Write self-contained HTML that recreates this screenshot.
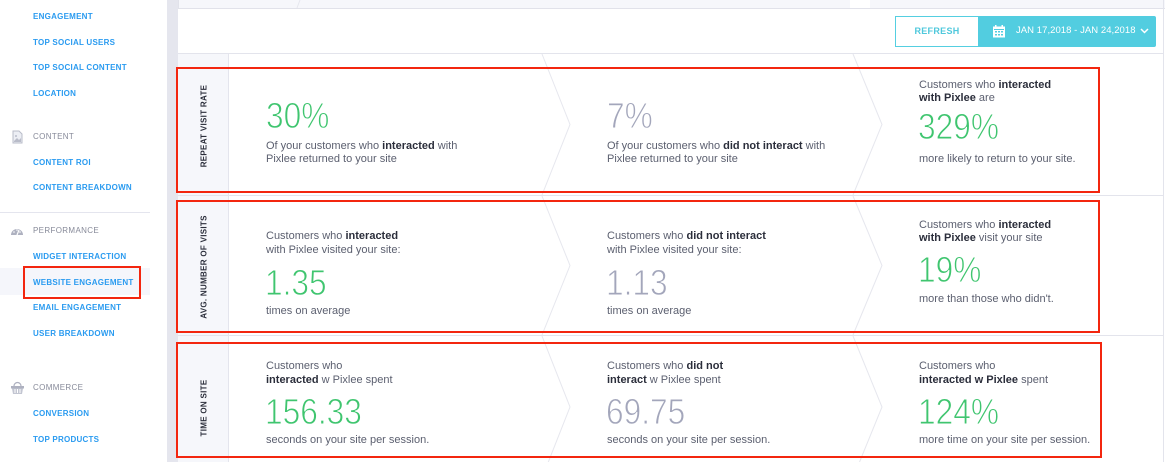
<!DOCTYPE html>
<html><head><meta charset="utf-8">
<style>
*{margin:0;padding:0;box-sizing:border-box}
html,body{width:1165px;height:462px;overflow:hidden;background:#fff;font-family:"Liberation Sans",sans-serif}
.a{position:absolute;white-space:nowrap}
.nav{position:absolute;left:33px;font-size:8px;font-weight:bold;letter-spacing:.25px;color:#2a9bf0;line-height:10px;white-space:nowrap}
.hdr{position:absolute;left:33px;font-size:8px;letter-spacing:.35px;color:#878a99;line-height:10px;white-space:nowrap}
.t{position:absolute;font-size:11px;line-height:13px;color:#5b5f6f;white-space:nowrap}
.t b{color:#2b2e3b}
.big{position:absolute;font-size:36px;line-height:36px;white-space:nowrap;transform:scaleX(.88);transform-origin:0 0;-webkit-text-stroke:0.9px #fff;paint-order:normal}
.g{color:#3fc56f}
.s{color:#a3a6bb}
.vl{position:absolute;font-size:8px;font-weight:bold;letter-spacing:.3px;color:#2b2e3b;white-space:nowrap;transform:translate(-50%,-50%) rotate(-90deg)}
.red{position:absolute;border:2px solid #f3260f}
.lab{position:absolute;left:178px;width:51px;background:#f6f7fb;border-right:1px solid #e4e5ed}
.hl{position:absolute;left:178px;width:985px;height:1px;background:#e3e4ec}
</style></head><body>

<!-- sidebar -->
<div class="a" style="left:0;top:268px;width:150px;height:27px;background:#f5f6fb"></div>
<div class="a" style="left:0;top:212px;width:150px;height:1px;background:#e4e5ee"></div>
<div class="nav" style="top:12px">ENGAGEMENT</div>
<div class="nav" style="top:38px">TOP SOCIAL USERS</div>
<div class="nav" style="top:63px">TOP SOCIAL CONTENT</div>
<div class="nav" style="top:89px">LOCATION</div>
<div class="hdr" style="top:132px">CONTENT</div>
<div class="nav" style="top:158px">CONTENT ROI</div>
<div class="nav" style="top:183px">CONTENT BREAKDOWN</div>
<div class="hdr" style="top:226px">PERFORMANCE</div>
<div class="nav" style="top:252px">WIDGET INTERACTION</div>
<div class="nav" style="top:278px">WEBSITE ENGAGEMENT</div>
<div class="nav" style="top:303px">EMAIL ENGAGEMENT</div>
<div class="nav" style="top:329px">USER BREAKDOWN</div>
<div class="hdr" style="top:383px">COMMERCE</div>
<div class="nav" style="top:409px">CONVERSION</div>
<div class="nav" style="top:435px">TOP PRODUCTS</div>
<svg class="a" style="left:10px;top:129px" width="14" height="16" viewBox="0 0 14 16">
 <path d="M3 2h6l3 3v9H3z" fill="#eceef4" stroke="#b9bcc9" stroke-width="1"/>
 <path d="M4 12l3-3 2 2 2-2v4H4z" fill="#b9bcc9"/><circle cx="6" cy="7" r="1" fill="#b9bcc9"/>
</svg>
<svg class="a" style="left:10px;top:225px" width="14" height="12" viewBox="0 0 14 12">
 <path d="M1 10a6 6 0 0 1 12 0z" fill="#aeb1c0"/>
 <path d="M7 10l2-5" stroke="#fff" stroke-width="1.2"/>
 <circle cx="4" cy="7" r=".8" fill="#fff"/><circle cx="10" cy="7" r=".8" fill="#fff"/><circle cx="7" cy="5" r=".8" fill="#fff"/>
</svg>
<svg class="a" style="left:10px;top:381px" width="15" height="14" viewBox="0 0 15 14">
 <path d="M4 5a3.5 3.5 0 0 1 7 0" fill="none" stroke="#aeb1c0" stroke-width="1.2"/>
 <rect x="1" y="5" width="13" height="2.5" fill="#aeb1c0"/>
 <path d="M2 7.5h11l-1 5.5H3z" fill="#c3c6d2"/>
 <path d="M5 8v4M7.5 8v4M10 8v4" stroke="#fff" stroke-width="1"/>
</svg>
<div class="red" style="left:23px;top:266px;width:118px;height:33px"></div>

<!-- gray strip -->
<div class="a" style="left:167px;top:0;width:11px;height:462px;background:#e5e6ee"></div>

<!-- top strip -->
<div class="a" style="left:178px;top:0;width:987px;height:9px;background:#f6f7fb;border-bottom:1px solid #e1e2ea"></div>
<div class="a" style="left:850px;top:0;width:20px;height:8px;background:#fff"></div>
<div class="a" style="left:178px;top:0;width:1px;height:9px;background:#e1e2ea"></div>

<!-- right border -->
<div class="a" style="left:1163px;top:0;width:1px;height:462px;background:#e3e4ec"></div>

<!-- toolbar -->
<div class="hl" style="top:53px"></div>
<div class="a" style="left:895px;top:16px;width:84px;height:31px;border:1px solid #55cfe1;color:#4fc8dc;font-size:9px;font-weight:bold;letter-spacing:.3px;text-align:center;line-height:29px">REFRESH</div>
<div class="a" style="left:978px;top:16px;width:178px;height:31px;background:#52cde0;border-radius:0 2px 2px 0"></div>
<svg class="a" style="left:992px;top:25px" width="14" height="13" viewBox="0 0 14 13">
 <rect x="1" y="1.5" width="12" height="11" fill="#fff"/>
 <rect x="3" y="0" width="1.5" height="3" fill="#fff"/><rect x="9.5" y="0" width="1.5" height="3" fill="#fff"/>
 <rect x="2" y="4" width="10" height="1" fill="#52cde0"/>
 <g fill="#52cde0"><rect x="3" y="6" width="2" height="1.5"/><rect x="6" y="6" width="2" height="1.5"/><rect x="9" y="6" width="2" height="1.5"/><rect x="3" y="9" width="2" height="1.5"/><rect x="6" y="9" width="2" height="1.5"/><rect x="9" y="9" width="2" height="1.5"/></g>
</svg>
<div class="a" style="left:1016px;top:25px;font-size:9.5px;line-height:12px;color:#fff;letter-spacing:.05px">JAN 17,2018 - JAN 24,2018</div>
<svg class="a" style="left:1140px;top:28px" width="9" height="6" viewBox="0 0 9 6"><path d="M1 1l3.5 3.5L8 1" fill="none" stroke="#fff" stroke-width="1.5"/></svg>

<!-- rows -->
<div class="lab" style="top:54px;height:141px"></div>
<div class="lab" style="top:196px;height:139px"></div>
<div class="lab" style="top:336px;height:126px"></div>
<div class="hl" style="top:195px"></div>
<div class="hl" style="top:335px"></div>

<svg class="a" style="left:0;top:0" width="1165" height="462">
 <g fill="none" stroke="#e6e7ee" stroke-width="1">
  <polyline points="542,54 570,124.5 542,195"/>
  <polyline points="853,54 882,124.5 853,195"/>
  <polyline points="542,196 570,265.5 542,335"/>
  <polyline points="853,196 882,265.5 853,335"/>
  <polyline points="542,336 570,407 542,478"/>
  <polyline points="853,336 882,407 853,478"/>
  <line x1="297" y1="8" x2="300" y2="0"/>
 </g>
</svg>

<div class="vl" style="left:204px;top:126px">REPEAT VISIT RATE</div>
<div class="vl" style="left:204px;top:267px">AVG. NUMBER OF VISITS</div>
<div class="vl" style="left:204px;top:408px">TIME ON SITE</div>

<!-- row 1 -->
<div class="big g" style="left:266px;top:98px">30%</div>
<div class="t" style="left:266px;top:140px">Of your customers who <b>interacted</b> with</div>
<div class="t" style="left:266px;top:153px">Pixlee returned to your site</div>

<div class="big s" style="left:607px;top:98px">7%</div>
<div class="t" style="left:607px;top:140px">Of your customers who <b>did not interact</b> with</div>
<div class="t" style="left:607px;top:153px">Pixlee returned to your site</div>

<div class="t" style="left:919px;top:79px">Customers who <b>interacted</b></div>
<div class="t" style="left:919px;top:92px"><b>with Pixlee</b> are</div>
<div class="big g" style="left:918px;top:109px">329%</div>
<div class="t" style="left:919px;top:153px">more likely to return to your site.</div>

<!-- row 2 -->
<div class="t" style="left:266px;top:230px">Customers who <b>interacted</b></div>
<div class="t" style="left:266px;top:244px">with Pixlee visited your site:</div>
<div class="big g" style="left:265px;top:265px">1.35</div>
<div class="t" style="left:266px;top:305px">times on average</div>

<div class="t" style="left:607px;top:230px">Customers who <b>did not interact</b></div>
<div class="t" style="left:607px;top:244px">with Pixlee visited your site:</div>
<div class="big s" style="left:606px;top:265px">1.13</div>
<div class="t" style="left:607px;top:305px">times on average</div>

<div class="t" style="left:919px;top:219px">Customers who <b>interacted</b></div>
<div class="t" style="left:919px;top:232px"><b>with Pixlee</b> visit your site</div>
<div class="big g" style="left:918px;top:252px">19%</div>
<div class="t" style="left:919px;top:293px">more than those who didn't.</div>

<!-- row 3 -->
<div class="t" style="left:266px;top:360px">Customers who</div>
<div class="t" style="left:266px;top:374px"><b>interacted</b> w Pixlee spent</div>
<div class="big g" style="left:265px;top:394px">156.33</div>
<div class="t" style="left:266px;top:434px">seconds on your site per session.</div>

<div class="t" style="left:607px;top:360px">Customers who <b>did not</b></div>
<div class="t" style="left:607px;top:374px"><b>interact</b> w Pixlee spent</div>
<div class="big s" style="left:606px;top:394px">69.75</div>
<div class="t" style="left:607px;top:434px">seconds on your site per session.</div>

<div class="t" style="left:919px;top:360px">Customers who</div>
<div class="t" style="left:919px;top:374px"><b>interacted w Pixlee</b> spent</div>
<div class="big g" style="left:918px;top:394px">124%</div>
<div class="t" style="left:919px;top:434px">more time on your site per session.</div>

<!-- red highlight boxes -->
<div class="red" style="left:176px;top:67px;width:924px;height:126px"></div>
<div class="red" style="left:176px;top:200px;width:924px;height:133px"></div>
<div class="red" style="left:176px;top:342px;width:926px;height:116px"></div>

</body></html>
